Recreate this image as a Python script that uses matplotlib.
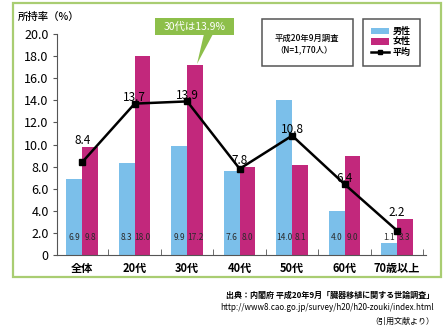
import matplotlib
matplotlib.use("Agg")
import matplotlib.pyplot as plt
from matplotlib.patches import Rectangle, Polygon
import numpy as np

plt.rcParams['font.family'] = ['Noto Sans CJK JP', 'DejaVu Sans']

# data
categories = ["全体", "20代", "30代", "40代", "50代", "60代", "70歳以上"]
male = [6.9, 8.3, 9.9, 7.6, 14.0, 4.0, 1.1]
female = [9.8, 18.0, 17.2, 8.0, 8.1, 9.0, 3.3]
average = [8.4, 13.7, 13.9, 7.8, 10.8, 6.4, 2.2]
yticks = [0, 2, 4, 6, 8, 10, 12, 14, 16, 18, 20]

BLUE = "#7bbfea"
MAGENTA = "#c2287c"
GREEN = "#8dbf4a"
FRAME = "#a9cd72"

W, H = 444, 330
fig = plt.figure(figsize=(W / 100, H / 100), dpi=100)


def px(x, y):
    # pixel position (from top-left) -> figure fraction
    return x / W, 1 - y / H


# outer green frame
fx0, fy0 = px(13, 277)
fx1, fy1 = px(441, 3)
fig.add_artist(Rectangle((fx0, fy0), fx1 - fx0, fy1 - fy0, transform=fig.transFigure,
                         fill=False, edgecolor=FRAME, linewidth=1.6))

ax = fig.add_axes([57 / W, 1 - 255 / H, (426 - 57) / W, (255 - 34) / H])
ax.patch.set_alpha(0)

x = np.arange(len(categories))
width = 0.3
ax.bar(x - width / 2, male, width, color=BLUE, label="男性", zorder=2)
ax.bar(x + width / 2, female, width, color=MAGENTA, label="女性", zorder=2)
ax.plot(x, average, color="black", linewidth=1.8, marker="s", markersize=4.5, zorder=4, label="平均")

# values inside the bars
for i in range(len(categories)):
    ax.text(x[i] - width / 2, 1.6, f"{male[i]:.1f}", ha="center", va="center",
            fontsize=6, color="#2a2a2a", zorder=5)
    ax.text(x[i] + width / 2, 1.6, f"{female[i]:.1f}", ha="center", va="center",
            fontsize=6, color="#2a2a2a", zorder=5)

# average labels (lifted above the women's bar when it is just above the line)
for i, v in enumerate(average):
    base = v
    if female[i] > v and female[i] - v < 2:
        base = female[i]
    ax.text(x[i], base + 0.55, f"{v:.1f}", ha="center", va="center", fontsize=8.5, zorder=5)

ax.set_xlim(-0.48, 6.55)
ax.set_ylim(0, 20)
ax.set_yticks(yticks)
ax.set_yticklabels(["0" if t == 0 else f"{t:.1f}" for t in yticks], fontsize=9)
ax.set_xticks(x)
ax.set_xticklabels(categories, fontsize=8, fontweight="bold")
ax.set_xticks(np.arange(0.5, len(categories), 1), minor=True)
ax.tick_params(axis="x", which="major", length=0, pad=5)
ax.tick_params(axis="x", which="minor", direction="in", length=4, color="#555555")
ax.tick_params(axis="y", length=3, color="#555555", pad=3)
for s in ["top", "right"]:
    ax.spines[s].set_visible(False)
ax.spines["left"].set_color("#555555")
ax.spines["bottom"].set_color("#555555")

# y axis title
tx, ty = px(18, 17)
fig.text(tx, ty, "所持率（%）", fontsize=7.5, fontweight="medium", ha="left", va="center")

# green callout
cx0, cy0 = px(155, 35)
cx1, cy1 = px(234, 18)
fig.add_artist(Rectangle((cx0, cy0), cx1 - cx0, cy1 - cy0, transform=fig.transFigure,
                         facecolor=GREEN, edgecolor="none"))
fig.add_artist(Polygon([px(204, 34), px(213, 34), px(197, 64)], closed=True,
                       transform=fig.transFigure, facecolor=GREEN, edgecolor="none"))
tx, ty = px(194.5, 26.5)
fig.text(tx, ty, "30代は13.9%", fontsize=7.5, color="white", ha="center", va="center")

# survey box
bx0, by0 = px(262, 66)
bx1, by1 = px(353, 19)
fig.add_artist(Rectangle((bx0, by0), bx1 - bx0, by1 - by0, transform=fig.transFigure,
                         fill=False, edgecolor="#555555", linewidth=1.1))
tx, ty = px(275, 38)
fig.text(tx, ty, "平成20年9月調査", fontsize=6, fontweight="medium", ha="left", va="center")
tx, ty = px(275, 50)
fig.text(tx, ty, "（N=1,770人）", fontsize=6, fontweight="medium", ha="left", va="center")

# legend box
lx0, ly0 = px(363, 66)
lx1, ly1 = px(420, 19)
fig.add_artist(Rectangle((lx0, ly0), lx1 - lx0, ly1 - ly0, transform=fig.transFigure,
                         fill=False, edgecolor="#555555", linewidth=1.1))
handles, labels = ax.get_legend_handles_labels()
order = [1, 2, 0]
leg = fig.legend([handles[k] for k in order], [labels[k] for k in order],
                 loc="center", bbox_to_anchor=px(391, 42), frameon=False,
                 fontsize=6.5, handlelength=2.0, handleheight=0.8, handletextpad=0.4,
                 labelspacing=0.15, borderpad=0, markerscale=0.6,
                 prop={"size": 6.5, "weight": "bold"})

# source note
for yy, s, wt in [(295, "出典：内閣府 平成20年9月「臓器移植に関する世論調査」", "bold"),
                  (308, "http://www8.cao.go.jp/survey/h20/h20-zouki/index.html", "normal"),
                  (321, "（引用文献より）", "normal")]:
    tx, ty = px(434, yy)
    fig.text(tx, ty, s, fontsize=5.8, fontweight=wt, ha="right", va="center")

fig.savefig("out.png", dpi=100)
